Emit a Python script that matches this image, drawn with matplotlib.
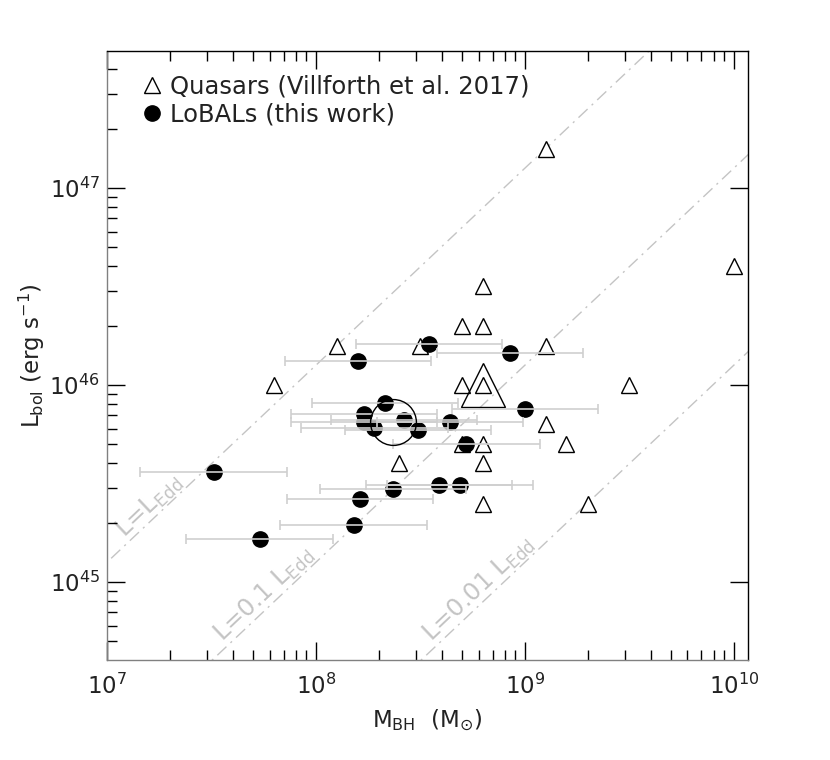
import numpy as np
import matplotlib
matplotlib.use("Agg")
import matplotlib.pyplot as plt
from matplotlib import transforms
from matplotlib.lines import Line2D
from matplotlib.ticker import LogLocator, NullFormatter

# ---------------- data ----------------
# Quasars (Villforth et al. 2017)
qso_mbh = [6.3e7, 1.26e8, 3.16e8, 5.0e8, 6.3e8, 6.3e8, 1.26e9, 1.26e9, 5.0e8, 6.3e8,
           3.16e9, 1.26e9, 5.0e8, 6.3e8, 1.58e9, 2.5e8, 6.3e8, 6.3e8, 2.0e9, 1.0e10]
qso_lbol = [1.0e46, 1.58e46, 1.58e46, 2.0e46, 2.0e46, 3.16e46, 1.58e47, 1.58e46, 1.0e46, 1.0e46,
            1.0e46, 6.3e45, 5.0e45, 5.0e45, 5.0e45, 4.0e45, 4.0e45, 2.5e45, 2.5e45, 4.0e46]
qso_mean_mbh = [6.3e8]
qso_mean_lbol = [1.0e46]

# LoBALs (this work): log M_BH, log L_bol, error on log M_BH (dex)
lobal_logm = [7.51, 7.73, 8.21, 8.18, 8.37, 8.59, 8.69, 8.20, 8.54, 8.93,
              9.00, 8.33, 8.23, 8.23, 8.28, 8.42, 8.49, 8.64, 8.72]
lobal_logl = [45.56, 45.22, 45.42, 45.29, 45.47, 45.49, 45.49, 46.12, 46.21, 46.16,
              45.88, 45.91, 45.85, 45.81, 45.78, 45.82, 45.77, 45.81, 45.70]
lobal_err = [0.35, 0.35, 0.35, 0.35, 0.35, 0.35, 0.35, 0.35, 0.35, 0.35,
             0.35, 0.35, 0.35, 0.35, 0.35, 0.35, 0.35, 0.35, 0.35]
lobal_mean_logm = [8.37]
lobal_mean_logl = [45.81]

# Eddington lines
edd_const = 1.26e38
edd_ratios = [1.0, 0.1, 0.01]
edd_labels = [r"L=L$_{\rm Edd}$", r"L=0.1 L$_{\rm Edd}$", r"L=0.01 L$_{\rm Edd}$"]
edd_label_mbh = [1.75e7, 6.2e7, 6.6e8]

xlim = (1e7, 10 ** 10.067)
ylim = (10 ** 44.604, 10 ** 47.695)

# ---------------- style ----------------
plt.rcParams["font.family"] = ["DejaVu Sans"]
plt.rcParams["mathtext.fontset"] = "dejavusans"
plt.rcParams["mathtext.default"] = "regular"

fig = plt.figure(figsize=(8.3, 7.6), dpi=100)
ax = fig.add_axes([0.129, 0.1316, 0.772, 0.8013])
ax.set_xscale("log")
ax.set_yscale("log")
ax.set_xlim(*xlim)
ax.set_ylim(*ylim)

lgray = "#c4c4c4"
tcol = "#222222"

# Eddington lines
mline = np.array([1e6, 1e11])
for r in edd_ratios:
    ax.plot(mline, r * edd_const * mline, color=lgray, lw=1.0,
            dashes=(9, 4, 1.5, 4), zorder=1)

# Labels along lines
fig.canvas.draw()
for r, lab, m in zip(edd_ratios, edd_labels, edd_label_mbh):
    l = r * edd_const * m
    p1 = ax.transData.transform((m, l))
    p2 = ax.transData.transform((m * 10, l * 10))
    ang = np.arctan2(p2[1] - p1[1], p2[0] - p1[0])
    off = 12
    tr = transforms.offset_copy(ax.transData, fig=fig,
                                x=-np.sin(ang) * off, y=np.cos(ang) * off, units="dots")
    ax.text(m, l, lab, transform=tr, rotation=np.degrees(ang), rotation_mode="anchor",
            ha="center", va="center", color=lgray, fontsize=17.5, zorder=1)

# Quasars
ax.plot(qso_mbh, qso_lbol, ls="none", marker="^", ms=11.5, mfc="white", mec="black",
        mew=1.0, zorder=3)
ax.plot(qso_mean_mbh, qso_mean_lbol, ls="none", marker="^", ms=32, mfc="none", mec="black",
        mew=1.0, zorder=3)

# LoBALs
lm = 10 ** np.array(lobal_logm)
ll = 10 ** np.array(lobal_logl)
le = np.array(lobal_err)
xerr = [lm - 10 ** (np.array(lobal_logm) - le), 10 ** (np.array(lobal_logm) + le) - lm]
ax.plot(lm, ll, ls="none", marker="o", ms=11, mfc="black", mec="black", zorder=4)
ax.errorbar(lm, ll, xerr=xerr, fmt="none", ecolor="#cfcfcf", elinewidth=1.2,
            capsize=3.5, capthick=1.2, zorder=5)
ax.plot(10 ** np.array(lobal_mean_logm), 10 ** np.array(lobal_mean_logl), ls="none",
        marker="o", ms=33, mfc="none", mec="black", mew=1.0, zorder=6)

# Axes style
for s in ["left", "bottom"]:
    ax.spines[s].set_color("#808080")
for s in ["top", "right"]:
    ax.spines[s].set_color("black")
for s in ax.spines.values():
    s.set_linewidth(1.0)

ax.xaxis.set_major_locator(LogLocator(base=10, numticks=10))
ax.xaxis.set_minor_locator(LogLocator(base=10, subs=np.arange(2, 10), numticks=20))
ax.yaxis.set_major_locator(LogLocator(base=10, numticks=10))
ax.yaxis.set_minor_locator(LogLocator(base=10, subs=np.arange(2, 10), numticks=20))
ax.xaxis.set_minor_formatter(NullFormatter())
ax.yaxis.set_minor_formatter(NullFormatter())

ax.tick_params(which="both", direction="in", top=True, right=True, color="black",
               labelcolor=tcol)
ax.tick_params(which="major", length=13, width=1.0)
ax.tick_params(which="minor", length=7, width=1.0)
ax.tick_params(which="minor", axis="y", right=False)
ax.tick_params(axis="x", which="major", pad=10, labelsize=16.5)
ax.tick_params(axis="y", which="major", pad=5, labelsize=16.5)

ax.set_xlabel(r"M$_{\rm BH}$  (M$_{\odot}$)", fontsize=16.5, labelpad=6, color=tcol)
ax.set_ylabel(r"L$_{\rm bol}$ (erg s$^{-1}$)", fontsize=16.5, labelpad=2, color=tcol)

# Legend
handles = [Line2D([], [], ls="none", marker="^", ms=11.5, mfc="none", mec="black", mew=1.0),
           Line2D([], [], ls="none", marker="o", ms=11, mfc="black", mec="black")]
labels = ["Quasars (Villforth et al. 2017)", "LoBALs (this work)"]
leg = ax.legend(handles, labels, loc="upper left", bbox_to_anchor=(0.055, 0.962), frameon=False,
                fontsize=17.5, handlelength=0.8, handletextpad=0.35, borderpad=0, borderaxespad=0,
                labelspacing=0.2)
for t in leg.get_texts():
    t.set_color(tcol)

fig.savefig("out.png", dpi=100)
